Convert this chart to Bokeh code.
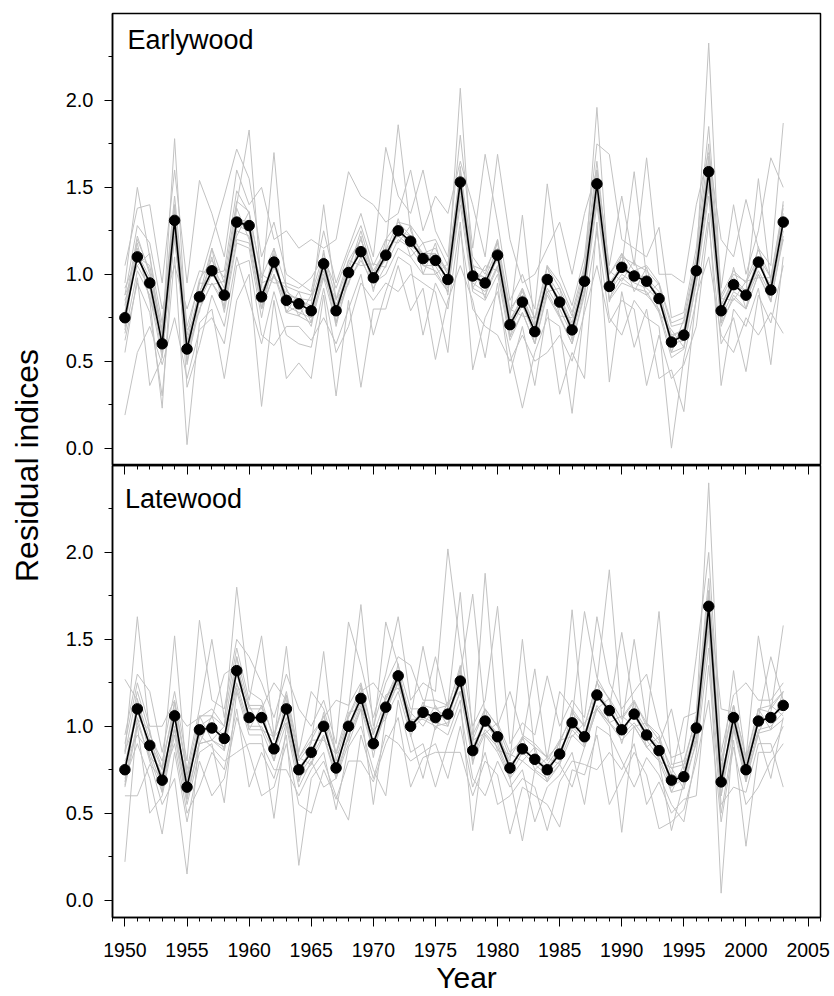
from math import pi

from bokeh.plotting import figure
from bokeh.models import Range1d, FixedTicker, LinearAxis, Label, PrintfTickFormatter
from bokeh.layouts import row, column
from bokeh.embed import file_html
from bokeh.resources import INLINE

# ---------------------------------------------------------------- data
years = list(range(1950, 2004))

# site chronologies (mean residual index per year)
ew_mean = [0.75, 1.10, 0.95, 0.60, 1.31, 0.57, 0.87, 1.02, 0.88, 1.30,
           1.28, 0.87, 1.07, 0.85, 0.83, 0.79, 1.06, 0.79, 1.01, 1.13,
           0.98, 1.11, 1.25, 1.19, 1.09, 1.08, 0.97, 1.53, 0.99, 0.95,
           1.11, 0.71, 0.84, 0.67, 0.97, 0.84, 0.68, 0.96, 1.52, 0.93,
           1.04, 0.99, 0.96, 0.86, 0.61, 0.65, 1.02, 1.59, 0.79, 0.94,
           0.88, 1.07, 0.91, 1.30]
lw_mean = [0.75, 1.10, 0.89, 0.69, 1.06, 0.65, 0.98, 0.99, 0.93, 1.32,
           1.05, 1.05, 0.87, 1.10, 0.75, 0.85, 1.00, 0.76, 1.00, 1.16,
           0.90, 1.11, 1.29, 1.00, 1.08, 1.05, 1.07, 1.26, 0.86, 1.03,
           0.94, 0.76, 0.87, 0.81, 0.75, 0.84, 1.02, 0.94, 1.18, 1.09,
           0.98, 1.07, 0.95, 0.86, 0.69, 0.71, 0.99, 1.69, 0.68, 1.05,
           0.75, 1.03, 1.05, 1.12]

# individual tree series, earlywood
ew_tree01 = [0.95, 1.50, 1.10, 0.72, 1.45, 0.70, 0.95, 1.20, 1.45, 1.72,
             1.55, 1.10, 1.30, 1.00, 0.95, 0.90, 1.25, 0.95, 1.15, 1.35,
             1.10, 1.73, 1.45, 1.35, 1.60, 1.25, 1.10, 1.80, 1.15, 1.69,
             1.30, 0.85, 1.00, 0.80, 1.52, 1.00, 0.82, 1.10, 1.75, 1.69,
             1.20, 1.15, 1.10, 1.27, 0.75, 0.78, 1.15, 1.85, 0.92, 1.40,
             1.00, 1.25, 1.67, 1.50]
ew_tree02 = [0.19, 0.55, 0.70, 0.48, 0.75, 0.40, 0.68, 0.75, 0.60, 1.05,
             1.08, 0.65, 0.59, 0.70, 0.70, 0.62, 0.75, 0.60, 0.80, 1.00,
             0.65, 0.90, 1.10, 1.05, 0.65, 0.95, 0.80, 1.30, 0.45, 0.75,
             0.90, 0.55, 0.23, 0.55, 0.75, 0.70, 0.20, 0.82, 1.25, 0.75,
             0.65, 0.85, 0.75, 0.70, 0.00, 0.52, 0.85, 1.35, 0.36, 0.80,
             0.70, 0.92, 0.48, 1.10]
ew_tree03 = [0.78, 1.20, 1.02, 0.65, 1.78, 0.62, 0.90, 1.05, 0.92, 1.40,
             1.83, 0.92, 1.70, 0.90, 0.85, 0.82, 1.40, 0.85, 1.05, 1.20,
             1.00, 1.15, 1.86, 1.25, 1.10, 1.12, 1.00, 2.07, 1.00, 0.98,
             1.15, 0.75, 1.34, 0.70, 1.00, 0.88, 0.72, 1.00, 1.96, 0.95,
             1.05, 1.59, 0.98, 0.90, 0.65, 0.68, 1.05, 2.33, 0.82, 0.98,
             0.90, 1.55, 0.95, 1.35]
ew_tree04 = [0.62, 0.95, 0.78, 0.30, 1.10, 0.02, 0.72, 0.80, 0.40, 0.85,
             1.00, 0.24, 0.85, 0.40, 0.49, 0.40, 0.88, 0.30, 0.85, 0.35,
             0.80, 0.80, 1.05, 0.79, 0.92, 0.51, 0.85, 1.05, 0.85, 0.52,
             0.95, 0.43, 0.70, 0.36, 0.80, 0.31, 0.55, 0.40, 1.30, 0.38,
             0.90, 0.58, 0.80, 0.40, 0.45, 0.21, 0.88, 1.10, 0.65, 0.55,
             0.75, 0.65, 0.78, 0.66]
ew_tree05 = [1.05, 1.38, 1.40, 0.95, 1.60, 0.95, 1.54, 1.35, 1.10, 1.60,
             1.40, 1.50, 1.20, 1.25, 1.15, 1.20, 1.15, 1.20, 1.59, 1.45,
             1.40, 1.30, 1.35, 1.60, 1.25, 1.45, 1.35, 1.65, 1.40, 1.10,
             1.69, 1.20, 0.95, 1.00, 1.15, 1.30, 1.00, 1.35, 1.60, 1.05,
             1.45, 1.05, 1.67, 1.00, 1.00, 0.95, 1.40, 1.70, 1.20, 1.10,
             1.43, 1.15, 1.05, 1.87]
ew_tree06 = [0.85, 1.05, 0.92, 0.55, 1.25, 0.55, 0.80, 0.95, 0.85, 1.25,
             1.22, 0.80, 1.00, 0.82, 0.78, 0.75, 1.00, 0.78, 0.95, 1.10,
             0.92, 1.05, 1.20, 1.15, 1.05, 1.05, 0.92, 1.45, 0.95, 0.90,
             1.05, 0.68, 0.82, 0.65, 0.92, 0.80, 0.65, 0.92, 1.45, 0.90,
             1.00, 0.95, 0.92, 0.85, 0.60, 0.62, 0.98, 1.50, 0.75, 0.90,
             0.85, 1.02, 0.88, 1.25]
ew_tree07 = [0.70, 1.15, 0.85, 0.23, 1.32, 0.48, 0.85, 1.10, 0.78, 1.18,
             1.15, 0.75, 1.12, 0.78, 0.82, 0.70, 1.05, 0.70, 1.00, 1.15,
             0.95, 1.00, 1.15, 1.10, 1.00, 1.00, 0.90, 1.40, 0.90, 0.85,
             1.00, 0.62, 0.78, 0.60, 0.88, 0.75, 0.60, 0.88, 1.40, 0.85,
             0.95, 0.92, 0.88, 0.80, 0.55, 0.58, 0.95, 1.45, 0.70, 0.88,
             0.80, 1.00, 0.85, 1.20]
ew_tree08 = [0.88, 1.28, 1.18, 0.80, 1.05, 0.80, 1.02, 1.00, 1.02, 1.48,
             1.35, 1.00, 0.95, 0.95, 0.92, 0.98, 1.10, 0.92, 1.12, 1.28,
             1.05, 1.20, 1.30, 1.28, 1.18, 1.20, 1.05, 1.60, 1.10, 1.00,
             1.20, 0.80, 0.90, 0.75, 1.05, 0.95, 0.78, 1.05, 1.65, 1.00,
             1.12, 1.02, 1.05, 0.95, 0.72, 0.75, 1.10, 1.75, 0.88, 1.02,
             0.95, 1.10, 0.98, 1.40]
ew_tree09 = [0.55, 0.98, 0.36, 0.52, 1.40, 0.35, 0.59, 0.88, 0.70, 1.10,
             0.85, 0.60, 0.90, 0.65, 0.60, 0.58, 0.92, 0.55, 0.70, 0.95,
             0.85, 0.95, 0.90, 1.00, 0.95, 0.90, 0.55, 1.25, 0.80, 0.70,
             0.65, 0.50, 0.65, 0.50, 0.55, 0.65, 0.50, 0.78, 1.05, 0.72,
             0.85, 0.80, 0.36, 0.65, 0.40, 0.48, 0.70, 1.30, 0.60, 0.75,
             0.44, 0.88, 0.72, 1.05]
ew_tree10 = [0.92, 1.10, 1.05, 0.68, 1.20, 0.60, 0.88, 1.15, 0.95, 1.32,
             1.30, 0.90, 1.05, 0.88, 0.86, 0.85, 1.08, 0.82, 1.02, 1.25,
             1.00, 1.08, 1.25, 1.22, 1.12, 1.15, 1.00, 1.50, 1.05, 0.92,
             1.10, 0.72, 0.88, 0.70, 0.98, 0.85, 0.70, 0.98, 1.50, 0.92,
             1.05, 1.00, 0.95, 0.88, 0.62, 0.66, 1.02, 1.55, 0.80, 0.95,
             0.90, 1.08, 0.92, 1.30]
ew_tree11 = [0.82, 1.22, 1.00, 0.66, 1.38, 0.65, 0.97, 1.08, 0.98, 1.42,
             1.36, 0.98, 1.15, 0.93, 0.90, 0.88, 1.12, 0.86, 1.08, 1.20,
             1.02, 1.14, 1.30, 1.22, 1.05, 1.02, 0.90, 1.48, 0.92, 0.88,
             1.04, 0.64, 0.78, 0.60, 0.90, 0.76, 0.60, 0.90, 1.45, 0.86,
             0.98, 0.92, 0.90, 0.78, 0.52, 0.57, 0.95, 1.52, 0.72, 0.86,
             0.80, 1.00, 0.84, 1.22]
ew_tree12 = [0.66, 1.02, 0.88, 0.52, 1.22, 0.50, 0.80, 0.95, 0.82, 1.20,
             1.18, 0.80, 1.00, 0.78, 0.76, 0.72, 0.98, 0.72, 0.96, 1.08,
             0.95, 1.10, 1.24, 1.18, 1.12, 1.12, 1.02, 1.58, 1.05, 1.02,
             1.18, 0.78, 0.92, 0.74, 1.04, 0.92, 0.76, 1.02, 1.60, 1.00,
             1.10, 1.06, 1.02, 0.94, 0.70, 0.72, 1.08, 1.66, 0.86, 1.00,
             0.96, 1.14, 0.98, 1.38]
ew_tree13 = [0.88, 1.05, 1.12, 0.55, 1.22, 0.68, 0.78, 1.15, 0.80, 1.38,
             1.20, 0.95, 0.98, 0.92, 0.76, 0.88, 0.98, 0.86, 0.94, 1.22,
             0.90, 1.20, 1.18, 1.28, 1.00, 1.18, 0.88, 1.62, 0.92, 1.05,
             1.02, 0.80, 0.76, 0.75, 0.90, 0.92, 0.62, 1.04, 1.44, 1.02,
             0.96, 1.08, 0.88, 0.95, 0.55, 0.74, 0.94, 1.68, 0.72, 1.04,
             0.80, 1.16, 0.84, 1.42]
ew_tree14 = [0.68, 1.18, 0.85, 0.68, 1.40, 0.50, 0.95, 0.94, 0.96, 1.22,
             1.36, 0.80, 1.15, 0.78, 0.90, 0.72, 1.14, 0.72, 1.08, 1.05,
             1.06, 1.04, 1.32, 1.10, 1.18, 1.00, 1.06, 1.44, 1.06, 0.86,
             1.20, 0.64, 0.92, 0.60, 1.05, 0.76, 0.75, 0.88, 1.60, 0.84,
             1.12, 0.90, 1.04, 0.78, 0.68, 0.58, 1.10, 1.50, 0.86, 0.85,
             0.96, 0.98, 0.98, 1.20]
ew_tree15 = [0.78, 1.12, 0.98, 0.62, 1.28, 0.60, 0.84, 1.00, 0.90, 1.28,
             1.25, 0.84, 1.04, 0.88, 0.86, 0.80, 1.02, 0.82, 1.00, 1.16,
             1.00, 1.14, 1.22, 1.16, 1.12, 1.06, 0.98, 1.50, 1.02, 0.98,
             1.08, 0.74, 0.86, 0.70, 0.95, 0.86, 0.70, 0.98, 1.48, 0.95,
             1.02, 1.00, 0.98, 0.84, 0.64, 0.68, 1.00, 1.56, 0.82, 0.96,
             0.86, 1.05, 0.94, 1.28]

# individual tree series, latewood
lw_tree01 = [0.90, 1.25, 1.00, 1.00, 1.15, 0.75, 1.10, 1.50, 1.05, 1.45,
             1.15, 1.52, 0.95, 1.20, 0.85, 1.20, 1.10, 0.85, 1.10, 1.70,
             1.00, 1.25, 1.40, 1.35, 1.15, 1.15, 1.12, 1.77, 0.95, 1.10,
             1.00, 1.20, 0.95, 0.90, 0.82, 1.20, 1.10, 1.00, 1.25, 1.90,
             1.05, 1.15, 1.00, 1.66, 0.78, 0.80, 1.05, 2.40, 0.80, 1.12,
             0.82, 1.52, 1.10, 1.20]
lw_tree02 = [0.65, 1.00, 0.50, 0.60, 0.95, 0.55, 0.85, 0.90, 0.56, 1.20,
             0.95, 0.95, 0.47, 1.00, 0.65, 0.80, 0.65, 0.70, 0.90, 1.10,
             0.55, 1.05, 1.20, 0.95, 0.70, 1.00, 0.95, 1.15, 0.40, 0.95,
             0.85, 0.70, 0.34, 0.75, 0.70, 0.78, 0.65, 0.88, 1.10, 1.00,
             0.39, 1.00, 0.88, 0.80, 0.40, 0.68, 0.90, 1.55, 0.04, 1.00,
             0.70, 0.95, 0.70, 1.05]
lw_tree03 = [1.27, 1.15, 0.92, 0.75, 1.52, 0.70, 1.00, 1.05, 1.30, 1.35,
             1.10, 1.10, 1.25, 1.15, 0.80, 0.90, 1.43, 0.80, 1.05, 1.20,
             1.25, 1.15, 1.30, 1.05, 1.46, 1.10, 1.05, 1.30, 1.76, 1.05,
             0.95, 0.80, 1.50, 0.85, 0.78, 0.88, 1.67, 0.95, 1.20, 1.10,
             1.54, 1.10, 0.98, 0.90, 1.10, 0.75, 1.00, 1.75, 1.10, 1.08,
             0.78, 1.05, 1.40, 1.15]
lw_tree04 = [0.80, 0.95, 0.85, 0.65, 1.00, 0.60, 0.90, 0.92, 0.88, 1.25,
             1.00, 1.00, 0.85, 1.05, 0.72, 0.82, 0.95, 0.72, 0.95, 1.12,
             0.88, 1.08, 1.25, 0.98, 1.05, 1.02, 1.00, 1.20, 0.82, 0.98,
             0.90, 0.72, 0.85, 0.78, 0.72, 0.80, 0.98, 0.90, 1.12, 1.02,
             0.95, 1.02, 0.92, 0.82, 0.65, 0.70, 0.95, 1.60, 0.65, 1.02,
             0.72, 0.98, 1.00, 1.08]
lw_tree05 = [0.22, 1.05, 0.80, 0.55, 0.70, 0.15, 0.95, 0.88, 0.80, 0.85,
             0.90, 0.90, 0.75, 0.75, 0.60, 0.75, 0.85, 0.52, 0.88, 1.00,
             0.75, 0.60, 1.15, 0.85, 0.90, 0.65, 0.90, 1.10, 0.70, 0.60,
             0.80, 0.65, 0.75, 0.45, 0.65, 0.72, 0.85, 0.55, 1.00, 0.95,
             0.80, 0.65, 0.82, 0.72, 0.55, 0.45, 0.85, 1.45, 0.55, 0.65,
             0.62, 0.90, 0.90, 0.65]
lw_tree06 = [0.85, 1.63, 0.95, 0.80, 1.10, 1.00, 1.05, 1.10, 1.00, 1.80,
             1.20, 1.15, 0.92, 1.46, 0.82, 0.95, 1.05, 1.15, 1.12, 1.25,
             0.95, 1.60, 1.35, 1.10, 1.10, 1.40, 1.10, 1.35, 0.90, 1.88,
             1.02, 0.85, 0.92, 1.33, 0.80, 0.92, 1.05, 1.66, 1.28, 1.15,
             1.00, 1.50, 1.02, 0.95, 0.72, 1.05, 1.08, 1.85, 0.72, 1.32,
             0.80, 1.10, 1.08, 1.58]
lw_tree07 = [0.60, 0.60, 0.78, 0.70, 0.90, 0.50, 0.65, 0.85, 0.75, 1.10,
             0.65, 0.85, 0.70, 0.95, 0.20, 0.70, 0.80, 0.60, 0.46, 0.95,
             0.70, 0.95, 0.90, 0.80, 0.85, 0.90, 0.70, 1.00, 0.65, 0.85,
             0.55, 0.60, 0.70, 0.65, 0.40, 0.68, 0.80, 0.78, 0.75, 0.85,
             0.75, 0.90, 0.55, 0.68, 0.50, 0.58, 0.60, 1.35, 0.50, 0.92,
             0.31, 0.85, 0.85, 1.00]
lw_tree08 = [0.95, 1.30, 1.20, 0.85, 1.20, 0.80, 1.61, 1.15, 1.10, 1.50,
             1.40, 1.25, 1.05, 1.30, 1.10, 1.00, 1.15, 0.90, 1.60, 1.35,
             1.05, 1.30, 1.63, 1.15, 1.25, 1.20, 2.02, 1.45, 1.00, 1.15,
             1.69, 0.90, 1.02, 0.95, 1.29, 1.00, 1.15, 1.05, 1.63, 1.25,
             1.10, 1.20, 1.30, 1.00, 0.82, 0.85, 1.40, 2.00, 0.85, 1.18,
             1.25, 1.15, 1.15, 1.25]
lw_tree09 = [0.70, 0.90, 0.70, 0.38, 0.85, 0.45, 0.80, 0.60, 0.70, 1.05,
             0.85, 0.60, 0.65, 0.90, 0.55, 0.50, 0.75, 0.58, 0.80, 0.80,
             0.68, 0.90, 1.05, 0.65, 0.82, 0.85, 0.85, 0.85, 0.60, 0.80,
             0.72, 0.38, 0.65, 0.60, 0.55, 0.42, 0.75, 0.72, 0.95, 0.55,
             0.70, 0.85, 0.72, 0.41, 0.45, 0.52, 0.80, 1.15, 0.45, 0.88,
             0.55, 0.65, 0.80, 0.90]
lw_tree10 = [0.78, 1.12, 0.88, 0.72, 1.05, 0.68, 0.98, 1.00, 0.95, 1.30,
             1.05, 1.05, 0.88, 1.10, 0.76, 0.86, 1.00, 0.76, 1.00, 1.18,
             0.90, 1.12, 1.28, 1.00, 1.08, 1.05, 1.05, 1.25, 0.85, 1.02,
             0.92, 0.76, 0.88, 0.80, 0.75, 0.84, 1.00, 0.92, 1.18, 1.08,
             0.98, 1.06, 0.94, 0.86, 0.68, 0.72, 0.98, 1.70, 0.68, 1.05,
             0.75, 1.02, 1.05, 1.12]
lw_tree11 = [0.84, 1.20, 0.96, 0.76, 1.14, 0.72, 1.06, 1.06, 1.00, 1.40,
             1.12, 1.12, 0.94, 1.18, 0.82, 0.92, 1.06, 0.84, 1.06, 1.22,
             0.95, 1.16, 1.32, 1.04, 1.04, 1.00, 1.02, 1.20, 0.80, 0.96,
             0.88, 0.70, 0.80, 0.74, 0.68, 0.78, 0.95, 0.88, 1.10, 1.02,
             0.92, 1.00, 0.88, 0.80, 0.62, 0.64, 0.92, 1.60, 0.60, 0.98,
             0.68, 0.96, 0.98, 1.04]
lw_tree12 = [0.68, 1.02, 0.82, 0.62, 0.98, 0.58, 0.90, 0.92, 0.86, 1.22,
             0.98, 0.98, 0.80, 1.02, 0.70, 0.78, 0.94, 0.70, 0.94, 1.10,
             0.86, 1.08, 1.26, 0.98, 1.12, 1.10, 1.12, 1.32, 0.92, 1.10,
             1.00, 0.82, 0.94, 0.88, 0.82, 0.90, 1.08, 1.00, 1.25, 1.16,
             1.04, 1.14, 1.02, 0.92, 0.76, 0.78, 1.06, 1.78, 0.76, 1.12,
             0.82, 1.10, 1.12, 1.20]
lw_tree13 = [0.86, 1.04, 0.98, 0.62, 1.14, 0.58, 1.06, 0.92, 1.00, 1.24,
             1.12, 0.98, 0.94, 1.02, 0.82, 0.78, 1.08, 0.70, 1.08, 1.10,
             0.98, 1.04, 1.36, 0.94, 1.14, 0.98, 1.14, 1.20, 0.92, 0.96,
             1.02, 0.70, 0.94, 0.75, 0.82, 0.78, 1.10, 0.88, 1.26, 1.02,
             1.06, 1.00, 1.02, 0.80, 0.76, 0.64, 1.06, 1.62, 0.74, 0.98,
             0.82, 0.96, 1.12, 1.06]
lw_tree14 = [0.66, 1.16, 0.82, 0.76, 0.98, 0.72, 0.90, 1.06, 0.86, 1.40,
             0.98, 1.12, 0.80, 1.18, 0.68, 0.92, 0.92, 0.84, 0.92, 1.24,
             0.82, 1.18, 1.22, 1.08, 1.00, 1.12, 1.00, 1.34, 0.78, 1.10,
             0.86, 0.84, 0.80, 0.88, 0.68, 0.92, 0.94, 1.02, 1.10, 1.16,
             0.90, 1.14, 0.88, 0.94, 0.62, 0.78, 0.92, 1.78, 0.60, 1.12,
             0.68, 1.10, 0.98, 1.20]
lw_tree15 = [0.76, 1.08, 0.90, 0.70, 1.04, 0.66, 0.96, 1.00, 0.92, 1.30,
             1.06, 1.04, 0.88, 1.08, 0.76, 0.84, 1.02, 0.78, 0.98, 1.14,
             0.92, 1.10, 1.28, 1.02, 1.06, 1.06, 1.08, 1.24, 0.88, 1.04,
             0.96, 0.78, 0.86, 0.82, 0.76, 0.86, 1.00, 0.96, 1.16, 1.10,
             0.96, 1.08, 0.96, 0.88, 0.70, 0.72, 1.00, 1.66, 0.70, 1.04,
             0.76, 1.02, 1.06, 1.10]

ew_trees = [ew_tree01, ew_tree02, ew_tree03, ew_tree04, ew_tree05,
            ew_tree06, ew_tree07, ew_tree08, ew_tree09, ew_tree10,
            ew_tree11, ew_tree12, ew_tree13, ew_tree14, ew_tree15]
lw_trees = [lw_tree01, lw_tree02, lw_tree03, lw_tree04, lw_tree05,
            lw_tree06, lw_tree07, lw_tree08, lw_tree09, lw_tree10,
            lw_tree11, lw_tree12, lw_tree13, lw_tree14, lw_tree15]

# axis ticks
x_major = list(range(1950, 2006, 5))
x_minor = list(range(1949, 2007))
y_major = [0.0, 0.5, 1.0, 1.5, 2.0]
y_minor = [0.25, 0.75, 1.25, 1.75, 2.25]

# ---------------------------------------------------------------- style
FONT = "Liberation Sans"
GREY = "#c2c2c2"
LEFT_W = 60          # strip holding the shared y-axis title
BORDER_L = 52
BORDER_R = 14
PANEL_W = BORDER_L + 708 + BORDER_R

x_range = Range1d(1949, 2006)


def style_y_axis(p):
    ax = p.yaxis[0]
    ax.ticker = FixedTicker(ticks=y_major, minor_ticks=y_minor)
    ax.formatter = PrintfTickFormatter(format="%.1f")
    ax.major_label_text_font = FONT
    ax.major_label_text_font_size = "20px"
    ax.major_label_text_color = "black"
    ax.major_label_standoff = 11
    ax.major_tick_out = 8
    ax.major_tick_in = 0
    ax.minor_tick_out = 4
    ax.minor_tick_in = 0
    ax.axis_line_color = "black"
    ax.axis_line_width = 1.5
    ax.major_tick_line_color = "black"
    ax.minor_tick_line_color = "black"


def panel(mean, trees, name, name_x, name_y, height, top, bottom):
    p = figure(width=PANEL_W, height=height, x_range=x_range,
               y_range=Range1d(-0.1, 2.5),
               min_border_left=BORDER_L, min_border_right=BORDER_R,
               min_border_top=top, min_border_bottom=bottom,
               x_axis_location=None, toolbar_location=None,
               output_backend="svg")
    p.grid.visible = False
    p.outline_line_color = "black"
    p.outline_line_width = 1.5
    p.background_fill_color = "white"
    p.border_fill_color = "white"
    style_y_axis(p)

    p.multi_line(xs=[years] * len(trees), ys=trees,
                 line_color=GREY, line_width=1)
    p.line(years, mean, line_color="black", line_width=1.6)
    p.scatter(years, mean, size=10.5, marker="circle",
              fill_color="black", line_color="black")

    p.add_layout(Label(x=name_x, y=name_y, text=name,
                       text_font=FONT, text_font_size="27px",
                       text_color="black", text_baseline="alphabetic",
                       text_align="left"))
    return p


p_ew = panel(ew_mean, ew_trees, "Earlywood", 1950.2, 2.349, 465, 13, 0)
p_lw = panel(lw_mean, lw_trees, "Latewood", 1950.0, 2.305, 531, 0, 79)

# ticks of the upper panel's time axis, reaching into the lower panel
# (tick marks only: labels switched off)
top_axis = LinearAxis(ticker=FixedTicker(ticks=x_major, minor_ticks=x_minor),
                      major_label_text_font_size="1px",
                      major_label_text_color=None,
                      major_label_standoff=0,
                      major_tick_in=9, major_tick_out=0,
                      minor_tick_in=4, minor_tick_out=0,
                      axis_line_color="black", axis_line_width=1.5,
                      major_tick_line_color="black",
                      minor_tick_line_color="black")
p_lw.add_layout(top_axis, "above")

bottom_axis = LinearAxis(ticker=FixedTicker(ticks=x_major, minor_ticks=x_minor),
                         axis_label="Year",
                         axis_label_text_font=FONT,
                         axis_label_text_font_size="30px",
                         axis_label_text_font_style="normal",
                         axis_label_text_color="black",
                         axis_label_standoff=1,
                         major_label_text_font=FONT,
                         major_label_text_font_size="19.5px",
                         major_label_text_color="black",
                         major_label_standoff=16,
                         major_tick_out=9, major_tick_in=0,
                         minor_tick_out=4, minor_tick_in=0,
                         axis_line_color="black", axis_line_width=1.5,
                         major_tick_line_color="black",
                         minor_tick_line_color="black")
p_lw.add_layout(bottom_axis, "below")

# shared y-axis title
p_title = figure(width=LEFT_W, height=996, x_range=Range1d(0, LEFT_W),
                 y_range=Range1d(0, 996), min_border=0,
                 x_axis_location=None, y_axis_location=None,
                 toolbar_location=None, output_backend="svg")
p_title.outline_line_color = None
p_title.grid.visible = False
p_title.add_layout(Label(x=26, y=996 - 465, text="Residual indices",
                         angle=pi / 2, text_font=FONT, text_font_size="32px",
                         text_color="black", text_align="center",
                         text_baseline="alphabetic"))

layout = row(p_title, column(p_ew, p_lw))

open("out.html", "w").write(file_html(layout, INLINE))
